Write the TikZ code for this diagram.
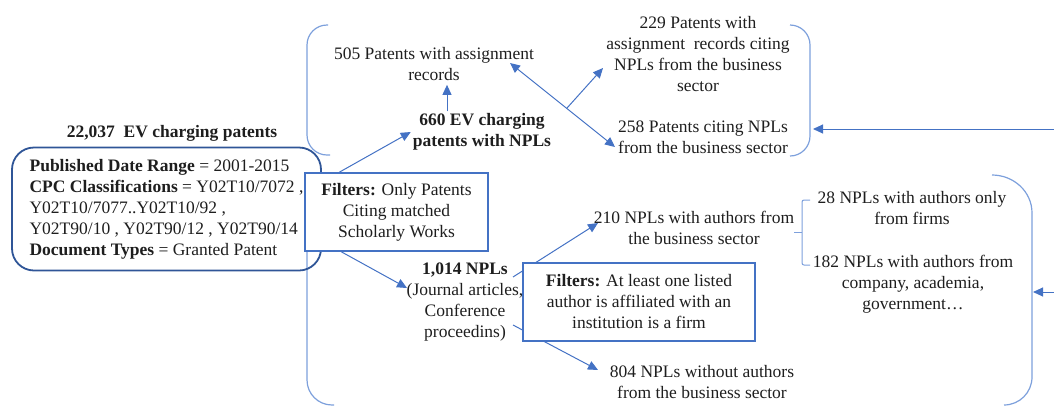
\documentclass[tikz,border=0pt]{standalone}
\usepackage{fontspec}
\setmainfont{Liberation Serif}
\newfontfamily\tnr{Liberation Serif}
\usetikzlibrary{arrows.meta,calc}
\definecolor{conn}{RGB}{68,114,196}
\definecolor{brk}{RGB}{125,160,220}
\definecolor{dark}{RGB}{47,85,151}
\definecolor{txt}{RGB}{30,30,30}
\begin{document}
\begin{tikzpicture}[x=1pt,y=-1pt,
  every node/.style={font=\tnr\fontsize{17.5}{21}\selectfont, text=txt, inner sep=2pt},
  lbl/.style={align=center},
  filterbox/.style={draw=conn, line width=1.5pt, fill=white, align=center, inner sep=0pt},
  mainbox/.style={draw=dark, line width=1.8pt, rounded corners=22pt, align=left, inner sep=0pt},
  arr/.style={draw=conn, line width=1pt, -{Triangle[length=10pt,width=9pt]}},
  bracket/.style={draw=brk, line width=1.2pt}]
\useasboundingbox (0,0) rectangle (1054,405);

% brackets
\draw[bracket, rounded corners=20pt] (328,25) -- (307,25) -- (307,155) -- (330,155);
\draw[bracket, rounded corners=25pt] (307,200) -- (307,405) -- (334,405);
\draw[bracket, rounded corners=20pt] (790,25) -- (810,25) -- (810,156) -- (790,156);
\draw[bracket] (992,175) to[out=0,in=90] (1032,213) -- (1032,377) to[out=-90,in=0] (1004,405);
\draw[bracket, line width=1pt, rounded corners=2pt] (810,200) -- (802,200) -- (802,265) -- (810,265);
\draw[bracket, line width=1pt] (802,232) -- (794,232);

% main box
\node[font=\tnr\fontsize{17.5}{21}\selectfont\bfseries] (title) at (172,133) {22,037~ EV charging patents};
\node[mainbox, minimum width=309pt, minimum height=123pt] (main) at (166.5,209)
  {\textbf{Published Date Range} = 2001-2015\\
   \textbf{CPC Classifications} = Y02T10/7072 ,\\
   Y02T10/7077..Y02T10/92 ,\\
   Y02T90/10 , Y02T90/12 , Y02T90/14\\
   \textbf{Document Types} = Granted Patent};

% text nodes
\node[lbl] (n505) at (434,64) {505 Patents with assignment\\records};
\node[lbl, font=\tnr\fontsize{17.5}{21}\selectfont\bfseries] (n660) at (482,132) {660 EV charging\\patents with NPLs};
\node[lbl] (n229) at (698,54) {229 Patents with\\assignment~ records citing\\NPLs from the business\\sector};
\node[lbl] (n258) at (703,137) {258 Patents citing NPLs\\from the business sector};
\node[lbl] (n1014) at (465,302) {\textbf{1,014 NPLs}\\(Journal articles,\\Conference\\proceedins)};
\node[lbl] (n210) at (694,228) {210 NPLs with authors from\\the business sector};
\node[lbl] (n804) at (702,382) {804 NPLs without authors\\from the business sector};
\node[lbl] (n28) at (912,208) {28 NPLs with authors only\\from firms};
\node[lbl] (n182) at (913,284) {182 NPLs with authors from\\company, academia,\\government…};

% coordinates for connector ends
\coordinate (e1) at (1054,129);
\coordinate (e2) at (1054,292);
\coordinate (x505) at (510,63);
\coordinate (x258) at (615,147);
\coordinate (xmid) at ($(x505)!0.54!(x258)$);
\coordinate (x229) at (603,68);
\coordinate (s1014a) at (513,277);
\coordinate (s1014b) at (513,325);
\coordinate (t1014) at (407,288);

% arrows
\draw[arr] (e1) -- (813,129) coordinate (t258);
\draw[arr] (e2) -- (1033,292) coordinate (t182);
\draw[arr] ([xshift=-35pt]n660.north) -- ([xshift=13pt,yshift=-2pt]n505.south);
\draw[arr, {Triangle[length=10pt,width=9pt]}-{Triangle[length=10pt,width=9pt]}] (x505) -- (x258);
\draw[arr] (xmid) -- (x229);
\draw[arr] (s1014a) -- (598,223) coordinate (t210);
\draw[arr] (s1014b) -- (598,370) coordinate (t804);

% filter boxes
\node[filterbox, minimum width=183pt, minimum height=78pt] (f1) at (396.5,212)
  {\textbf{Filters:} Only Patents\\Citing matched\\Scholarly Works};
\node[filterbox, minimum width=232pt, minimum height=78pt] (f2) at (639,302)
  {\textbf{Filters:} At least one listed\\author is affiliated with an\\institution is a firm};

\draw[arr] ([xshift=35pt]f1.north west) -- (n660.west);
\draw[arr] ([xshift=37pt]f1.south west) -- (t1014);
\end{tikzpicture}
\end{document}
